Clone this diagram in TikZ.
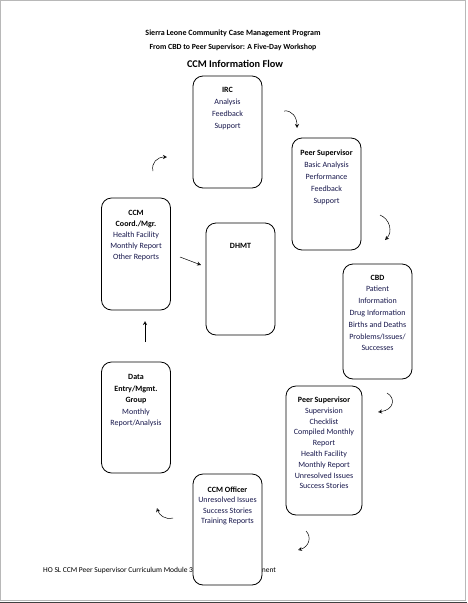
\documentclass[tikz,border=0pt]{standalone}
\usepackage{fontspec}
\setmainfont{Carlito}
\usetikzlibrary{arrows.meta}
\definecolor{navy}{rgb}{0.09,0.09,0.30}
\definecolor{framegray}{rgb}{0.72,0.72,0.72}
\newcommand{\hd}[1]{\textcolor{black}{\textbf{#1}}}
\begin{document}
\begin{tikzpicture}[x=1pt,y=-1pt,
  box/.style={draw=black, line width=0.8pt, rounded corners=10pt, fill=white,
    minimum width=69pt, minimum height=112pt, inner sep=0pt},
  boxtext/.style={anchor=north, align=center, inner sep=0pt, text=navy,
    font=\fontsize{8}{#1}\selectfont},
  title/.style={inner sep=0pt, font=\bfseries\fontsize{#1}{#1}\selectfont},
  flow/.style={line width=0.5pt, -{Stealth[open,length=4pt,width=4pt]}}]
\useasboundingbox (0,0) rectangle (467,603);
\fill[white] (0,0) rectangle (467,603);
% page frame
\draw[framegray, line width=1.2pt] (0.8,0.6) -- (465.8,0.6) -- (465.8,600.2) -- (0.8,600.2) -- cycle;
\fill[black!75] (0,601.5) rectangle (467,603);
% titles
\node[title=8] (t1) at (233,33) {Sierra Leone Community Case Management Program};
\node[title=7.8] (t2) at (233,47) {From CBD to Peer Supervisor: A Five-Day Workshop};
\node[title=10.3] (t3) at (235,64) {CCM Information Flow};
% footer (partly hidden by a box)
\node[anchor=west, inner sep=0pt, font=\fontsize{7.5}{7.5}\selectfont] (foot) at (43,571)
  {HO SL CCM Peer Supervisor Curriculum Module 3: Information Management};
% boxes
\node[box] (irc) at (227.5,132) {};
\node[box] (ps1) at (326.5,194) {};
\node[box, minimum height=115pt] (cbd) at (377.5,321.5) {};
\node[box, minimum width=76pt, minimum height=129pt] (ps2) at (324,450.5) {};
\node[box, minimum height=111pt] (off) at (227.5,529.5) {};
\node[box, minimum height=111pt] (dat) at (136,417.5) {};
\node[box] (crd) at (136,254) {};
\node[box] (dhm) at (240.5,279) {};
% texts
\node[boxtext=12.3] (irct) at ([yshift=-11pt]irc.north) {\hd{IRC}\\Analysis\\Feedback\\Support};
\node[boxtext=12] (ps1t) at ([yshift=-12pt]ps1.north) {\hd{Peer Supervisor}\\Basic Analysis\\Performance\\Feedback\\Support};
\node[boxtext=11.8] (cbdt) at ([yshift=-11pt]cbd.north) {\hd{CBD}\\Patient\\Information\\Drug Information\\Births and Deaths\\Problems/Issues/\\Successes};
\node[boxtext=10.8] (ps2t) at ([yshift=-11pt]ps2.north) {\hd{Peer Supervisor}\\Supervision\\Checklist\\Compiled Monthly\\Report\\Health Facility\\Monthly Report\\Unresolved Issues\\Success Stories};
\node[boxtext=10.5] (offt) at ([yshift=-13pt]off.north) {\hd{CCM Officer}\\Unresolved Issues\\Success Stories\\Training Reports};
\node[boxtext=11.5] (datt) at ([yshift=-13pt]dat.north) {\hd{Data}\\\hd{Entry/Mgmt.}\\\hd{Group}\\Monthly\\Report/Analysis};
\node[boxtext=11] (crdt) at ([yshift=-12pt]crd.north) {\hd{CCM}\\\hd{Coord./Mgr.}\\Health Facility\\Monthly Report\\Other Reports};
\node[boxtext=11] (dhmt) at ([yshift=-21pt]dhm.north) {\hd{DHMT}};
% arrow end points
\coordinate (a1s) at (284,111); \coordinate (a1e) at (297,128);
\coordinate (a2s) at (380,215); \coordinate (a2e) at (385,240);
\coordinate (a3s) at (387,393); \coordinate (a3e) at (378,412);
\coordinate (a4s) at (306,531); \coordinate (a4e) at (298,550);
\coordinate (a5s) at (173,518); \coordinate (a5e) at (157,508);
\coordinate (a6s) at (145,342); \coordinate (a6e) at (145,321);
\coordinate (a7s) at (153,171); \coordinate (a7e) at (167,157);
\coordinate (a8s) at (180,257); \coordinate (a8e) at (201,265);
% arrows
\draw[flow] (a1s) .. controls (292,110) and (297,117) .. (a1e);
\draw[flow] (a2s) .. controls (390,219) and (393,232) .. (a2e);
\draw[flow] (a3s) .. controls (396,398) and (394,410) .. (a3e);
\draw[flow] (a4s) .. controls (312,537) and (309,547) .. (a4e);
\draw[flow] (a5s) .. controls (165,520) and (159,515) .. (a5e);
\draw[flow] (a6s) -- (a6e);
\draw[flow] (a7s) .. controls (151,163) and (157,157) .. (a7e);
\draw[flow] (a8s) -- (a8e);
\end{tikzpicture}
\end{document}
